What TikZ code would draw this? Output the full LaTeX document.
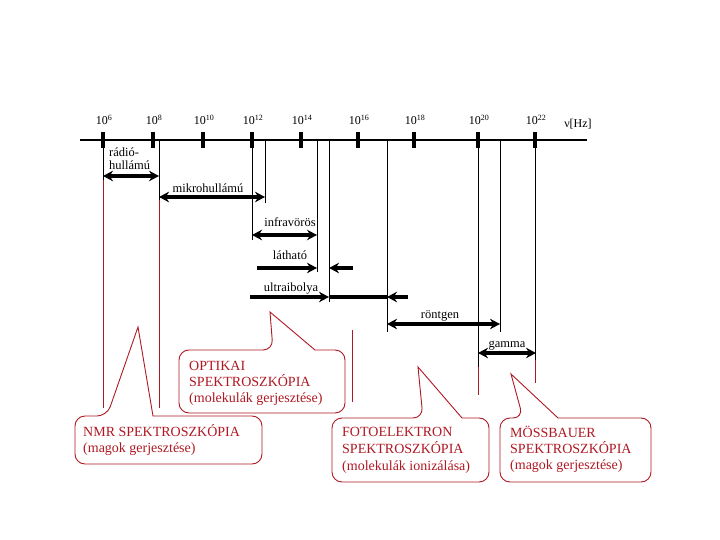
\documentclass[tikz,border=0pt]{standalone}
\usepackage{fontspec}
\setmainfont{Liberation Serif}
\usetikzlibrary{arrows.meta}
\definecolor{cred}{RGB}{175,25,35}
\begin{document}
\begin{tikzpicture}[x=1pt,y=-1pt,
 axisln/.style={line width=1.3pt},
 tickmark/.style={line width=4pt},
 vln/.style={line width=0.9pt},
 rln/.style={line width=0.9pt,draw=cred},
 band/.style={line width=3.3pt,{Stealth[length=10pt,width=10.5pt]}-{Stealth[length=10pt,width=10.5pt]}},
 rband/.style={line width=3.3pt,-{Stealth[length=10pt,width=10.5pt]}},
 lbl/.style={font=\fontsize{12.5}{14}\selectfont,inner sep=0pt,anchor=base},
 num/.style={font=\fontsize{12}{13}\selectfont,inner sep=0pt,anchor=base},
 ctext/.style={font=\fontsize{14}{16}\selectfont,text=cred,inner sep=0pt,anchor=base west},
 bubble/.style={draw=cred,line width=0.9pt,fill=white}
]
\useasboundingbox (0,0) rectangle (720,540);
% axis
\coordinate (axL) at (80,140);
\coordinate (axR) at (587,140);
\draw[axisln] (axL) -- (axR);
% ticks and labels
\foreach \x/\e/\n in {103/6/t6,153/8/t8,203/10/t10,252/12/t12,301/14/t14,358/16/t16,414/18/t18,478/20/t20,535/22/t22}{
  \coordinate (\n a) at (\x,132);
  \coordinate (\n b) at (\x,148);
  \draw[tickmark] (\n a) -- (\n b);
  \node[num] (\n l) at (\x+1,125) {10\textsuperscript{\e}};
}
\node[num] (nu) at (578,128) {ν[Hz]};
% vertical guide lines (black parts)
\foreach \x/\ya/\yb/\n in {103/140/180/v1,159/140/200/v2,252/140/240/v3,265/140/203/v4,317/140/272/v5,329/140/302/v6,387/140/332/v7,478/140/367/v8,500/140/332/v9,535/140/360/v10}{
  \coordinate (\n a) at (\x,\ya);
  \coordinate (\n b) at (\x,\yb);
  \draw[vln] (\n a) -- (\n b);
}
% red guide lines
\foreach \x/\ya/\yb/\n in {103/180/408/r1,159/200/408/r2,352/330/402/r3,478/367/395/r4,535/360/383/r5}{
  \coordinate (\n a) at (\x,\ya);
  \coordinate (\n b) at (\x,\yb);
  \draw[rln] (\n a) -- (\n b);
}
% bands
\coordinate (radA) at (103,176); \coordinate (radB) at (159,176);
\draw[band] (radA) -- (radB);
\node[lbl,anchor=base west] (radL1) at (109,157) {rádió-};
\node[lbl,anchor=base west] (radL2) at (109,170) {hullámú};
\coordinate (micA) at (159,197); \coordinate (micB) at (265,197);
\draw[band] (micA) -- (micB);
\node[lbl] (micL) at (208,193) {mikrohullámú};
\coordinate (irA) at (252,235); \coordinate (irB) at (317,235);
\draw[band] (irA) -- (irB);
\node[lbl] (irL) at (290,226) {infravörös};
\coordinate (visA) at (257,268); \coordinate (visB) at (317,268);
\coordinate (visC) at (353,268); \coordinate (visD) at (329,268);
\draw[rband] (visA) -- (visB);
\draw[rband] (visC) -- (visD);
\node[lbl] (visL) at (290,259) {látható};
\coordinate (uvA) at (250,297); \coordinate (uvB) at (329,297);
\coordinate (uvC) at (408,297); \coordinate (uvD) at (387,297);
\draw[rband] (uvA) -- (uvB);
\draw[line width=3.3pt] (uvB) -- (uvD);
\draw[rband] (uvC) -- (uvD);
\node[lbl] (uvL) at (291,291) {ultraibolya};
\coordinate (xA) at (387,324); \coordinate (xB) at (500,324);
\draw[band] (xA) -- (xB);
\node[lbl] (xL) at (440,318) {röntgen};
\coordinate (gA) at (478,353); \coordinate (gB) at (536,353);
\draw[band] (gA) -- (gB);
\node[lbl] (gL) at (507,347) {gamma};
% callouts
\draw[bubble] (315,350) [rounded corners=10pt] -- (345,350) -- (345,413) -- (179,413) -- (179,350) -- (273,350) [sharp corners] -- (270,312) -- cycle;
\node[ctext] (opt1) at (189,370.5) {OPTIKAI};
\node[ctext] (opt2) at (189,386.5) {SPEKTROSZKÓPIA};
\node[ctext] (opt3) at (189,402.5) {(molekulák gerjesztése)};
\draw[bubble] (153,416) [rounded corners=10pt] -- (262,416) -- (262,464) -- (75,464) -- (75,416) -- (107,416) [sharp corners] -- (138,327) -- cycle;
\node[ctext] (nmr1) at (83,436.5) {NMR SPEKTROSZKÓPIA};
\node[ctext] (nmr2) at (83,452.5) {(magok gerjesztése)};
\draw[bubble] (462,418) [rounded corners=10pt] -- (489,418) -- (489,482) -- (332,482) -- (332,418) -- (423,418) [sharp corners] -- (418,367) -- cycle;
\node[ctext] (fot1) at (342,436.5) {FOTOELEKTRON};
\node[ctext] (fot2) at (342,453) {SPEKTROSZKÓPIA};
\node[ctext] (fot3) at (342,470) {(molekulák ionizálása)};
\draw[bubble] (558,418) [rounded corners=10pt] -- (651,418) -- (651,482) -- (500,482) -- (500,418) -- (523,418) [sharp corners] -- (511,374) -- cycle;
\node[ctext] (mos1) at (510,437) {MÖSSBAUER};
\node[ctext] (mos2) at (510,453.5) {SPEKTROSZKÓPIA};
\node[ctext] (mos3) at (510,469.5) {(magok gerjesztése)};
\end{tikzpicture}
\end{document}
